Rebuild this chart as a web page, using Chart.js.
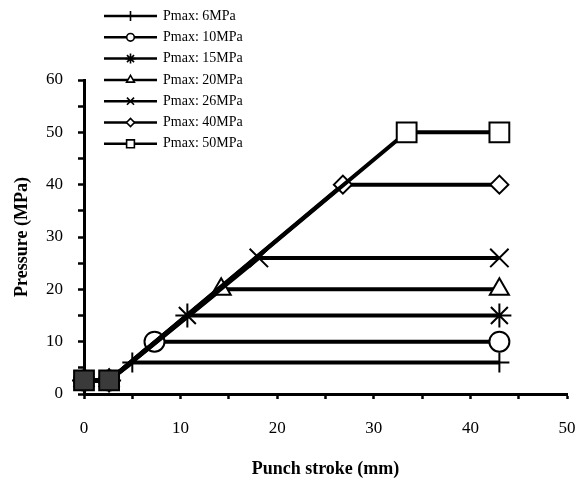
<!DOCTYPE html>
<html>
<head>
<meta charset="utf-8">
<script src="https://cdn.jsdelivr.net/npm/chart.js@4.4.1/dist/chart.umd.min.js"></script>
<style>
  html, body { margin: 0; padding: 0; background: #fff; }
  #wrap { width: 576px; height: 480px; }
</style>
</head>
<body>
<div id="wrap"><canvas id="c" width="576" height="480"></canvas></div>
<script>
// ---- data ----
const seriesLabels = ['Pmax: 6MPa', 'Pmax: 10MPa', 'Pmax: 15MPa', 'Pmax: 20MPa', 'Pmax: 26MPa', 'Pmax: 40MPa', 'Pmax: 50MPa'];
const startStroke = [0, 2.6];          // mm, initial flat segment
const startPressure = [2.6, 2.6];      // MPa
const peakStroke = [5.0, 7.3, 10.7, 14.2, 18.1, 26.8, 33.4]; // mm where Pmax is reached
const peakPressure = [6, 10, 15, 20, 26, 40, 50];            // MPa (Pmax)
const endStroke = [43, 43, 43, 43, 43, 43, 43];               // mm, end of stroke
const xTicks = [0, 10, 20, 30, 40, 50];
const yTicks = [0, 10, 20, 30, 40, 50, 60];

// ---- styles ----
const markerStyles = ['cross', 'circle', 'star', 'triangle', 'crossRot', 'rectRot', 'rect'];
const markerRadii = [10, 10, 12, 11, 13, 9, 14];
const legendRadii = [5, 3.8, 5, 4.5, 5, 4, 5.5];
const FONT = "'Liberation Serif', 'Times New Roman', Times, serif";

const datasets = seriesLabels.map((label, i) => ({
  label: label,
  data: [
    { x: startStroke[0], y: startPressure[0] },
    { x: startStroke[1], y: startPressure[1] },
    { x: peakStroke[i], y: peakPressure[i] },
    { x: endStroke[i], y: peakPressure[i] }
  ],
  borderColor: '#000',
  borderWidth: 4,
  pointStyle: markerStyles[i],
  pointRadius: markerRadii[i],
  pointBorderWidth: 2,
  pointBorderColor: '#000',
  pointBackgroundColor: ['#3a3a3a', '#3a3a3a', '#fff', '#fff'],
  tension: 0,
  fill: false,
  clip: false,
  order: seriesLabels.length - 1 - i
}));

const legendPlugin = {
  id: 'floatLegend',
  afterDraw(chart) {
    const ctx = chart.ctx;
    const x0 = 104, x1 = 157, tx = 163, y0 = 16, dy = 21.3;
    ctx.save();
    seriesLabels.forEach((label, i) => {
      const y = y0 + i * dy;
      ctx.strokeStyle = '#000';
      ctx.lineWidth = 2.5;
      ctx.beginPath();
      ctx.moveTo(x0, y);
      ctx.lineTo(x1, y);
      ctx.stroke();
      ctx.fillStyle = '#fff';
      ctx.lineWidth = 1.6;
      if (Chart.helpers && Chart.helpers.drawPoint) {
        Chart.helpers.drawPoint(ctx, { pointStyle: markerStyles[i], radius: legendRadii[i], borderWidth: 1.6, rotation: 0 }, (x0 + x1) / 2, y);
      }
      ctx.fillStyle = '#000';
      ctx.font = '14px ' + FONT;
      ctx.textBaseline = 'middle';
      ctx.textAlign = 'left';
      ctx.fillText(label, tx, y);
    });
    ctx.restore();
  }
};

new Chart(document.getElementById('c'), {
  type: 'line',
  data: { datasets: datasets },
  options: {
    responsive: false,
    animation: false,
    layout: { autoPadding: false, padding: { top: 80, right: 9, left: 0, bottom: 0 } },
    plugins: {
      legend: { display: false },
      tooltip: { enabled: false }
    },
    scales: {
      x: {
        type: 'linear',
        min: 0,
        max: 50,
        afterFit(scale) { scale.height = 86; scale.paddingLeft = 0; scale.paddingRight = 0; },
        ticks: {
          stepSize: 5,
          autoSkip: false,
          maxRotation: 0,
          padding: 19,
          color: '#000',
          font: { family: FONT, size: 17 },
          callback: (v) => xTicks.includes(v) ? String(v) : ''
        },
        grid: { drawOnChartArea: false, drawTicks: true, tickLength: 5, tickWidth: 2.5, tickColor: '#000' },
        border: { display: true, color: '#000', width: 3 },
        title: {
          display: true,
          text: 'Punch stroke (mm)',
          color: '#000',
          font: { family: FONT, size: 18, weight: 'bold' },
          padding: { top: 0, bottom: 0 }
        }
      },
      y: {
        type: 'linear',
        min: 0,
        max: 60,
        afterFit(scale) { scale.width = 84; scale.paddingTop = 0; scale.paddingBottom = 0; },
        ticks: {
          stepSize: 5,
          autoSkip: false,
          padding: 15,
          color: '#000',
          font: { family: FONT, size: 17 },
          callback: (v) => yTicks.includes(v) ? String(v) : ''
        },
        grid: { drawOnChartArea: false, drawTicks: true, tickLength: 6, tickWidth: 2.5, tickColor: '#000' },
        border: { display: true, color: '#000', width: 3 },
        title: {
          display: true,
          text: 'Pressure (MPa)',
          color: '#000',
          font: { family: FONT, size: 18, weight: 'bold' },
          padding: { top: 12, bottom: 0 }
        }
      }
    }
  },
  plugins: [legendPlugin]
});
</script>
</body>
</html>
